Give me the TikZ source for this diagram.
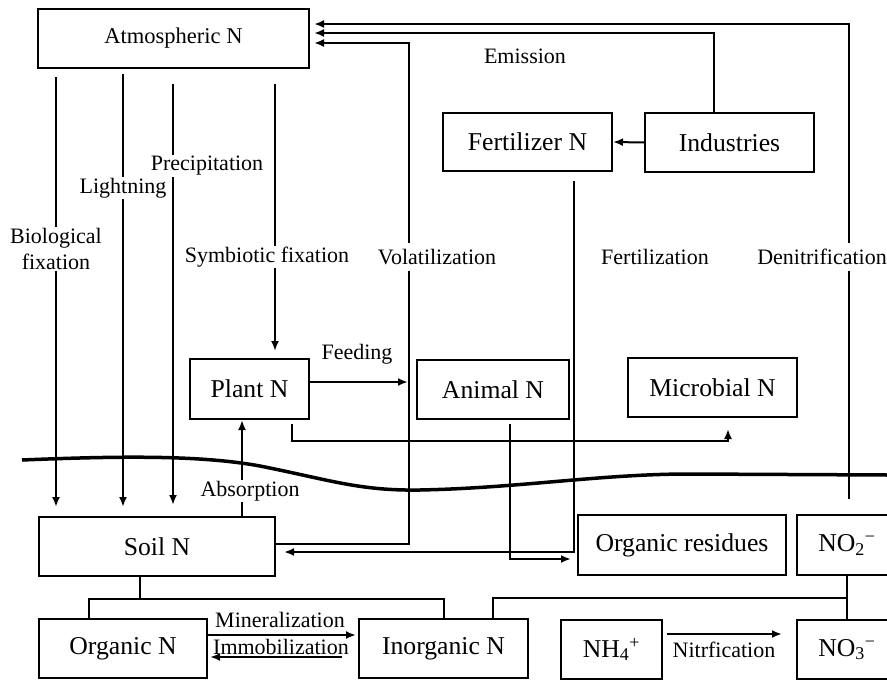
\documentclass[tikz,border=0pt]{standalone}
\usepackage{fontspec}
\setmainfont{Liberation Serif}
\usetikzlibrary{arrows.meta}

\begin{document}
\begin{tikzpicture}[x=1pt,y=-1pt,
  box node/.style={draw,line width=2pt,inner sep=0pt,font=\fontsize{25.7}{30}\selectfont},
  label node/.style={font=\fontsize{22}{26}\selectfont,inner sep=1pt},
  gap/.style={fill=white},
  plain/.style={line width=2pt},
  flow/.style={line width=2pt,-{Latex[length=10pt,width=8pt]}}]

  \useasboundingbox (0,0) rectangle (887,680);

  % boxes
  \node[box node,minimum width=271pt,minimum height=59pt,font=\fontsize{22.5}{26}\selectfont] (atm) at (173.5,38.5) {Atmospheric N};
  \node[box node,minimum width=169pt,minimum height=58pt] (fert) at (527.5,142) {Fertilizer N};
  \node[box node,minimum width=169pt,minimum height=59pt] (ind) at (729.5,142.5) {Industries};
  \node[box node,minimum width=119pt,minimum height=60pt] (plant) at (249.5,389) {Plant N};
  \node[box node,minimum width=152pt,minimum height=59pt] (animal) at (493,389.5) {Animal N};
  \node[box node,minimum width=169pt,minimum height=59pt] (micro) at (712.5,387.5) {Microbial N};
  \node[box node,minimum width=236pt,minimum height=59pt] (soil) at (157,546.5) {Soil N};
  \node[box node,minimum width=208pt,minimum height=60pt] (resid) at (682,545) {Organic residues};
  \node[box node,minimum width=100pt,minimum height=60pt] (notwo) at (847,545) {NO\textsubscript{2}\textsuperscript{−}};
  \node[box node,minimum width=168pt,minimum height=59pt] (orgn) at (123,648.5) {Organic N};
  \node[box node,minimum width=169pt,minimum height=59pt] (inorg) at (443.5,648.5) {Inorganic N};
  \node[box node,minimum width=101pt,minimum height=59pt] (nhfour) at (611.5,649.5) {NH\textsubscript{4}\textsuperscript{+}};
  \node[box node,minimum width=100pt,minimum height=59pt] (nothree) at (847,649.5) {NO\textsubscript{3}\textsuperscript{−}};

  % atmosphere down to soil and plant
  \draw[flow,shorten <=8pt,shorten >=9pt] (atm.south -| 56,0) -- (soil.north -| 56,0);
  \draw[flow,shorten <=5pt,shorten >=9pt] (atm.south -| 123,0) -- (soil.north -| 123,0);
  \draw[flow,shorten <=15pt,shorten >=11pt] (atm.south -| 173,0) -- (soil.north -| 173,0);
  \draw[flow,shorten <=15pt,shorten >=7pt] (atm.south -| 275,0) -- (plant.north -| 275,0);

  % back to the atmosphere
  \draw[flow,shorten >=4pt] (soil.east |- 0,544) -| (409,43) -- (atm.east |- 0,43);
  \draw[flow,shorten >=4pt] (ind.north -| 714,0) |- (atm.east |- 0,33);
  \draw[flow,shorten <=15pt,shorten >=4pt] (notwo.north -| 849,0) |- (atm.east |- 0,24);

  % industry and fertilizer
  \draw[flow] (ind.west) -- (fert.east);
  \draw[flow,shorten <=9pt,shorten >=8pt] (fert.south -| 574,0) |- (soil.east |- 0,552);

  % plants, animals, microbes
  \draw[flow,shorten >=8pt] (plant.east |- 0,382) -- (animal.west |- 0,382);
  \draw[flow,shorten <=4pt,shorten >=11pt] (plant.south -| 292,0) |- (728,441) -- (micro.south -| 728,0);
  \draw[flow,shorten <=4pt,shorten >=6pt] (animal.south -| 510,0) |- (resid.west |- 0,559);
  \draw[flow] (soil.north -| 242,0) -- (plant.south -| 242,0);

  % soil pools
  \draw[plain] (soil.south -| 140,0) -- (140,599);
  \draw[plain] (orgn.north -| 89,0) |- (inorg.north |- 0,599) -- (inorg.north);
  \draw[plain] (notwo.south) -- (nothree.north);
  \draw[plain] (inorg.north -| 493,0) |- (nothree.north |- 0,598);
  \draw[flow,shorten >=2pt] (orgn.east |- 0,635) -- (inorg.west |- 0,635);
  \draw[flow,shorten <=16pt,shorten >=2pt] (inorg.west |- 0,657) -- (orgn.east |- 0,657);
  \draw[flow,shorten <=4pt,shorten >=14pt] (nhfour.east |- 0,634) -- (nothree.west |- 0,634);

  % ground surface
  \draw[line width=3.5pt] (22,460) .. controls (120,456) and (200,455) .. (260,466)
    .. controls (330,480) and (360,491) .. (420,490)
    .. controls (520,488) and (600,474) .. (690,474) -- (887,475);

  % labels
  \node[label node] (emis) at (525,56) {Emission};
  \node[label node,gap] (prec) at (207,166) {Precipitation};
  \node[label node,gap] (light) at (123,188) {Lightning};
  \node[label node,gap,align=center] (bio) at (56,249) {Biological\\fixation};
  \node[label node,gap] (symb) at (267,257) {Symbiotic fixation};
  \node[label node,gap,inner ysep=6pt] (vol) at (437,257) {Volatilization};
  \node[label node] (fertl) at (655,257) {Fertilization};
  \node[label node,gap,inner ysep=6pt] (denit) at (822,257) {Denitrification};
  \node[label node] (feed) at (357,354) {Feeding};
  \node[label node,gap] (abs) at (250,491) {Absorption};
  \node[label node] (miner) at (280,620) {Mineralization};
  \node[label node] (immob) at (281,647) {Immobilization};
  \node[label node] (nitr) at (724,650) {Nitrfication};
\end{tikzpicture}
\end{document}
